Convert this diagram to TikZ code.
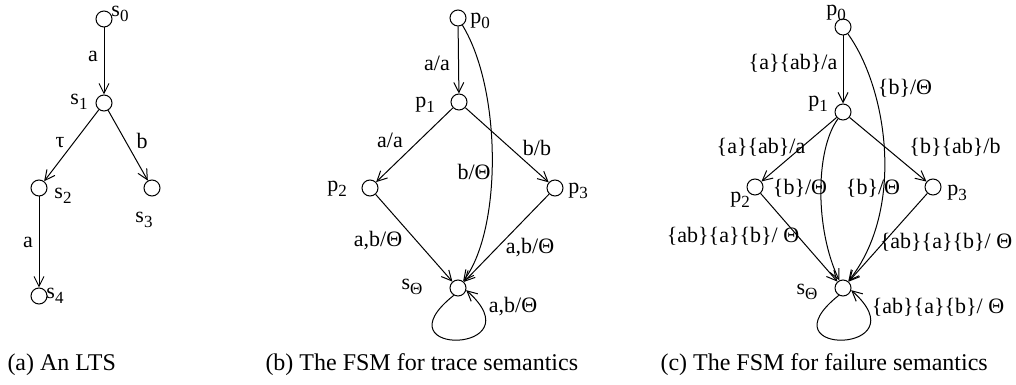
\documentclass[tikz,border=0pt]{standalone}
\usepackage{fontspec}
\setmainfont{Liberation Serif}
\usetikzlibrary{arrows.meta}
\newcommand\lowidx[1]{\raisebox{-0.5ex}{\fontsize{8.5}{9}\selectfont #1}}

\begin{document}
\begin{tikzpicture}[x=0.5pt, y=0.5pt, line width=0.5pt,
  st/.style={draw, circle, minimum size=8pt, inner sep=0pt},
  lbl/.style={inner sep=0pt, font=\fontsize{11}{13}\selectfont},
  capt/.style={anchor=base west, inner sep=0pt, font=\fontsize{12}{14}\selectfont},
  arr/.style={-{Straight Barb[length=5pt, width=5pt]}}]
  \useasboundingbox (0,0) rectangle (1016,385);

  % (a) the LTS
  \node[st] (s0) at (104,366) {};
  \node[st] (s1) at (104,282) {};
  \node[st] (s2) at (39,197) {};
  \node[st] (s3) at (152,197) {};
  \node[st] (s4) at (39,89) {};
  \node[lbl] (ls0) at (120,371) {s\lowidx{0}};
  \node[lbl] (ls1) at (79,283) {s\lowidx{1}};
  \node[lbl] (ls2) at (63,189) {s\lowidx{2}};
  \node[lbl] (ls3) at (144,165) {s\lowidx{3}};
  \node[lbl] (ls4) at (55,89) {s\lowidx{4}};

  \draw[arr] (s0) -- (s1);
  \draw[arr] (s1) -- (s2);
  \draw[arr] (s1) -- (s3);
  \draw[arr] (s2) -- (s4);
  \node[lbl] (ea1) at (93,329) {a};
  \node[lbl] (etau) at (60,242) {τ};
  \node[lbl] (eb) at (142,244) {b};
  \node[lbl] (ea2) at (28,143) {a};

  % (b) trace FSM
  \node[st] (p0) at (458,367) {};
  \node[st] (p1) at (459,283) {};
  \node[st] (p2) at (370,197) {};
  \node[st] (p3) at (555,197) {};
  \node[st] (pT) at (458,97) {};
  \node[lbl] (lp0) at (480,364) {p\lowidx{0}};
  \node[lbl] (lp1) at (425,280) {p\lowidx{1}};
  \node[lbl] (lp2) at (337,196) {p\lowidx{2}};
  \node[lbl] (lp3) at (578,194) {p\lowidx{3}};
  \node[lbl] (lpT) at (412,98) {s\lowidx{Θ}};

  \draw[arr] (p0) -- (p1);
  \draw[arr] (p1) -- (p2);
  \draw[arr] (p1) -- (p3);
  \draw[arr] (p2) -- (pT);
  \draw[arr] (p3) -- (pT);
  \draw[arr] (p0) .. controls (502,295) and (502,155) .. (pT);
  \draw[arr] (pT.240) .. controls +(-78,-62) and +(72,-64) .. (pT.-15);
  \node[lbl] (pa1) at (437,322) {a/a};
  \node[lbl] (pa2) at (390,245) {a/a};
  \node[lbl] (pb) at (537,237) {b/b};
  \node[lbl] (pbT) at (474,213) {b/Θ};
  \node[lbl] (p2T) at (378,144) {a,b/Θ};
  \node[lbl] (p3T) at (530,137) {a,b/Θ};
  \node[lbl] (pTT) at (513,78) {a,b/Θ};

  % (c) failure FSM
  \node[st] (q0) at (843,358) {};
  \node[st] (q1) at (843,273) {};
  \node[st] (q2) at (755,198) {};
  \node[st] (q3) at (933,198) {};
  \node[st] (qT) at (843,97) {};
  \node[lbl] (lq0) at (836,372) {p\lowidx{0}};
  \node[lbl] (lq1) at (818,281) {p\lowidx{1}};
  \node[lbl] (lq2) at (740,185) {p\lowidx{2}};
  \node[lbl] (lq3) at (957,192) {p\lowidx{3}};
  \node[lbl] (lqT) at (807,93) {s\lowidx{Θ}};

  \draw[arr] (q0) -- (q1);
  \draw[arr] (q1) -- (q2);
  \draw[arr] (q1) -- (q3);
  \draw[arr] (q2) -- (qT);
  \draw[arr] (q3) -- (qT);
  \draw[arr] (q0) .. controls (888,295) and (905,175) .. (qT);
  \draw[arr] (q1) .. controls (815,235) and (815,155) .. (qT);
  \draw[arr] (qT.240) .. controls +(-78,-62) and +(72,-64) .. (qT.-15);
  \node[lbl] (qa1) at (793,322) {\{a\}\{ab\}/a};
  \node[lbl] (q0T) at (905,297) {\{b\}/Θ};
  \node[lbl] (qa2) at (761,238) {\{a\}\{ab\}/a};
  \node[lbl] (qb) at (955,238) {\{b\}\{ab\}/b};
  \node[lbl] (q1T) at (800,197) {\{b\}/Θ};
  \node[lbl] (q0Tb) at (873,197) {\{b\}/Θ};
  \node[lbl] (q2T) at (733,149) {\{ab\}\{a\}\{b\}/ Θ};
  \node[lbl] (q3T) at (946,143) {\{ab\}\{a\}\{b\}/ Θ};
  \node[lbl] (qTT) at (938,78) {\{ab\}\{a\}\{b\}/ Θ};

  % captions
  \node[capt] (ca) at (7,14) {(a) An LTS};
  \node[capt] (cb) at (265,14) {(b) The FSM for trace semantics};
  \node[capt] (cc) at (660,14) {(c) The FSM for failure semantics};
\end{tikzpicture}
\end{document}
